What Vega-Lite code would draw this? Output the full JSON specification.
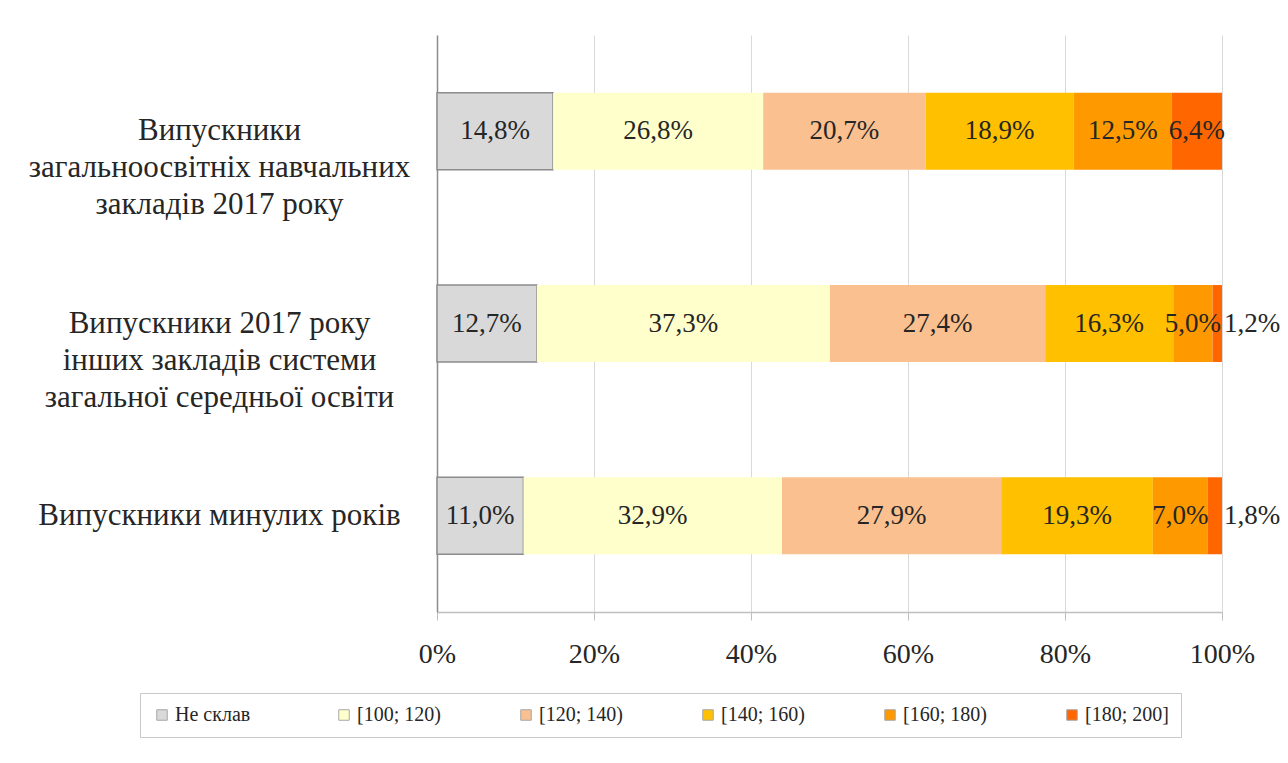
{
  "$schema": "https://vega.github.io/schema/vega-lite/v6.json",
  "width": 785,
  "height": 577,
  "autosize": {"type": "none"},
  "padding": {"left": 437, "top": 35, "right": 66, "bottom": 151},
  "background": "white",
  "data": {
    "values": [
      {"group": "Випускники загальноосвітніх навчальних закладів 2017 року", "cat": "Не склав", "k": 1, "v": 0.148},
      {"group": "Випускники загальноосвітніх навчальних закладів 2017 року", "cat": "[100; 120)", "k": 2, "v": 0.268},
      {"group": "Випускники загальноосвітніх навчальних закладів 2017 року", "cat": "[120; 140)", "k": 3, "v": 0.207},
      {"group": "Випускники загальноосвітніх навчальних закладів 2017 року", "cat": "[140; 160)", "k": 4, "v": 0.189},
      {"group": "Випускники загальноосвітніх навчальних закладів 2017 року", "cat": "[160; 180)", "k": 5, "v": 0.125},
      {"group": "Випускники загальноосвітніх навчальних закладів 2017 року", "cat": "[180; 200]", "k": 6, "v": 0.064},
      {"group": "Випускники 2017 року інших закладів системи загальної середньої освіти", "cat": "Не склав", "k": 1, "v": 0.127},
      {"group": "Випускники 2017 року інших закладів системи загальної середньої освіти", "cat": "[100; 120)", "k": 2, "v": 0.373},
      {"group": "Випускники 2017 року інших закладів системи загальної середньої освіти", "cat": "[120; 140)", "k": 3, "v": 0.274},
      {"group": "Випускники 2017 року інших закладів системи загальної середньої освіти", "cat": "[140; 160)", "k": 4, "v": 0.163},
      {"group": "Випускники 2017 року інших закладів системи загальної середньої освіти", "cat": "[160; 180)", "k": 5, "v": 0.050},
      {"group": "Випускники 2017 року інших закладів системи загальної середньої освіти", "cat": "[180; 200]", "k": 6, "v": 0.012},
      {"group": "Випускники минулих років", "cat": "Не склав", "k": 1, "v": 0.110},
      {"group": "Випускники минулих років", "cat": "[100; 120)", "k": 2, "v": 0.329},
      {"group": "Випускники минулих років", "cat": "[120; 140)", "k": 3, "v": 0.279},
      {"group": "Випускники минулих років", "cat": "[140; 160)", "k": 4, "v": 0.193},
      {"group": "Випускники минулих років", "cat": "[160; 180)", "k": 5, "v": 0.070},
      {"group": "Випускники минулих років", "cat": "[180; 200]", "k": 6, "v": 0.018}
    ]
  },
  "encoding": {
    "y": {
      "field": "group",
      "type": "nominal",
      "sort": null,
      "scale": {"paddingInner": 0.6, "paddingOuter": 0.3},
      "axis": {
        "title": null,
        "ticks": false,
        "grid": false,
        "domainColor": "#8c8c8c",
        "domainWidth": 1.5,
        "labelAlign": "center",
        "labelBaseline": "middle",
        "labelPadding": 218,
        "labelFontSize": 31,
        "labelColor": "#262626",
        "labelLineHeight": 37,
        "labelLimit": 600,
        "labelExpr": "datum.value == 'Випускники загальноосвітніх навчальних закладів 2017 року' ? ['Випускники', 'загальноосвітніх навчальних', 'закладів 2017 року'] : datum.value == 'Випускники 2017 року інших закладів системи загальної середньої освіти' ? ['Випускники 2017 року', 'інших закладів системи', 'загальної середньої освіти'] : datum.value"
      }
    }
  },
  "layer": [
    {
      "mark": {"type": "bar", "strokeWidth": 1.5},
      "encoding": {
        "x": {
          "field": "v",
          "type": "quantitative",
          "stack": "normalize",
          "scale": {"domain": [0, 1]},
          "axis": {
            "title": null,
            "format": ".0%",
            "values": [0, 0.2, 0.4, 0.6, 0.8, 1],
            "labelFlush": false,
            "grid": true,
            "gridColor": "#d9d9d9",
            "gridWidth": 1,
            "domainColor": "#bfbfbf",
            "domainWidth": 1.5,
            "tickColor": "#bfbfbf",
            "tickSize": 8,
            "labelFontSize": 28,
            "labelColor": "#262626",
            "labelPadding": 20
          }
        },
        "color": {
          "field": "cat",
          "type": "nominal",
          "scale": {
            "domain": ["Не склав", "[100; 120)", "[120; 140)", "[140; 160)", "[160; 180)", "[180; 200]"],
            "range": ["#d9d9d9", "#ffffcc", "#fac090", "#ffc000", "#ff9900", "#ff6600"]
          },
          "legend": {
            "title": null,
            "orient": "none",
            "legendX": -297,
            "legendY": 658,
            "direction": "horizontal",
            "columns": 6,
            "gridAlign": "all",
            "columnPadding": 75,
            "symbolType": "square",
            "symbolSize": 110,
            "symbolStrokeColor": "#a6a6a6",
            "symbolStrokeWidth": 1,
            "labelFontSize": 20,
            "labelColor": "#262626",
            "labelOffset": 3,
            "strokeColor": "#c8c8c8",
            "padding": 12
          }
        },
        "order": {"field": "k", "type": "quantitative"},
        "stroke": {
          "condition": {"test": "datum.k == 1", "value": "#8c8c8c"},
          "value": "transparent"
        }
      }
    },
    {
      "mark": {"type": "text", "fontSize": 27, "color": "#262626", "baseline": "middle"},
      "encoding": {
        "x": {"field": "v", "type": "quantitative", "stack": "normalize", "bandPosition": 0.5},
        "detail": {"field": "cat", "type": "nominal"},
        "order": {"field": "k", "type": "quantitative"},
        "text": {
          "condition": {"test": "datum.v >= 0.03", "field": "v", "type": "quantitative", "format": ".1%"},
          "value": ""
        }
      }
    },
    {
      "mark": {"type": "text", "fontSize": 27, "color": "#262626", "baseline": "middle", "align": "left", "dx": 2},
      "encoding": {
        "x": {"field": "v", "type": "quantitative", "stack": "normalize"},
        "detail": {"field": "cat", "type": "nominal"},
        "order": {"field": "k", "type": "quantitative"},
        "text": {
          "condition": {"test": "datum.v < 0.03", "field": "v", "type": "quantitative", "format": ".1%"},
          "value": ""
        }
      }
    }
  ],
  "config": {
    "font": "'Liberation Serif', 'DejaVu Serif', serif",
    "locale": {
      "number": {"decimal": ",", "thousands": " ", "grouping": [3], "currency": ["", " грн"]}
    },
    "view": {"stroke": null}
  }
}
